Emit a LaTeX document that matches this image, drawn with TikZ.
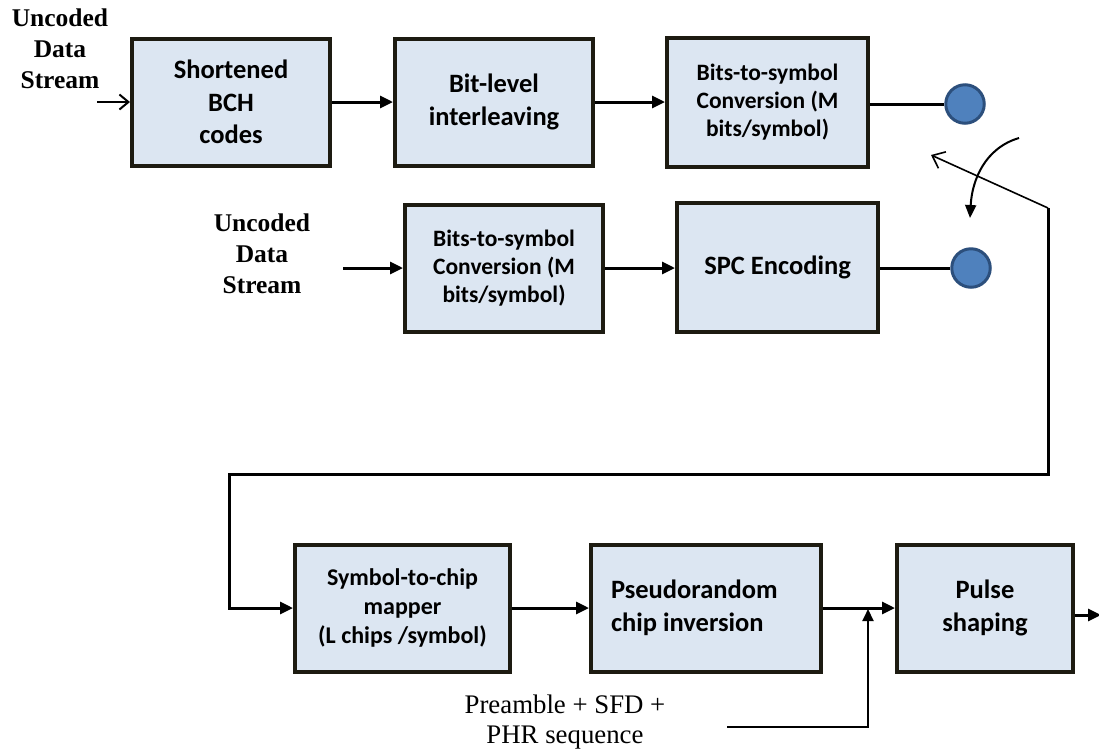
\documentclass[tikz,border=0pt]{standalone}
\usepackage{fontspec}
\setmainfont{Liberation Serif}
\newfontfamily\boxfont{Carlito}
\usetikzlibrary{arrows.meta}
\definecolor{boxfill}{HTML}{DCE6F2}
\definecolor{boxline}{HTML}{1D1B11}
\definecolor{dotfill}{HTML}{4F81BD}
\definecolor{dotline}{HTML}{2C4F7C}
\begin{document}
\begin{tikzpicture}[x=1pt,y=-1pt,
  blk/.style={draw=boxline, line width=4pt, fill=boxfill, inner sep=0pt,
    align=center, minimum height=127pt},
  bigtxt/.style={font=\boxfont\bfseries\fontsize{26.5}{32.5}\selectfont},
  smalltxt/.style={font=\boxfont\bfseries\fontsize{23.5}{28}\selectfont},
  dot/.style={circle, draw=dotline, line width=3pt, fill=dotfill, minimum size=38.5pt, inner sep=0pt},
  lbl/.style={align=center, inner sep=0pt, font=\bfseries\fontsize{25.5}{31}\selectfont},
  plbl/.style={align=center, inner sep=0pt, font=\fontsize{26.8}{30}\selectfont},
  conn/.style={line width=3pt, draw=black},
  arr/.style={conn, -{Triangle[length=13pt,width=12pt]}},
  openarr/.style={line width=2.5pt, -{Straight Barb[length=9pt,width=15pt,line width=2pt]}},
  armarr/.style={line width=1.6pt, -{Straight Barb[length=11pt,width=18pt,line width=1.6pt]}},
  curvarr/.style={line width=2pt, -{Triangle[length=13pt,width=11pt]}}
]
\useasboundingbox (0,0) rectangle (1099,748);

% row 1
\node[lbl] (in1) at (60,49) {Uncoded\\Data\\Stream};
\node[blk, bigtxt, minimum width=198pt] (b1) at (231,102) {Shortened\\BCH\\codes};
\node[blk, bigtxt, minimum width=198pt] (b2) at (494,102) {Bit-level\\interleaving};
\node[blk, smalltxt, minimum width=201pt, minimum height=129pt] (b3) at (767.5,102) {Bits-to-symbol\\Conversion (M\\bits/symbol)};
\node[dot] (c1) at (965,104) {};

% row 2
\node[lbl] (in2) at (262,254) {Uncoded\\Data\\Stream};
\node[blk, smalltxt, minimum width=198pt] (b4) at (504,268) {Bits-to-symbol\\Conversion (M\\bits/symbol)};
\node[blk, bigtxt, minimum width=201pt, minimum height=129pt] (b5) at (777.5,267) {SPC Encoding};
\node[dot] (c2) at (971,268) {};

% row 3
\node[blk, font=\boxfont\bfseries\fontsize{24}{29}\selectfont, minimum width=215pt] (b6) at (402.5,608) {Symbol-to-chip\\mapper\\(L chips /symbol)};
\node[blk, bigtxt, minimum width=230pt, text width=190pt, inner xsep=20pt, align=flush left] (b7) at (706,608) {Pseudorandom\\chip inversion};
\node[blk, bigtxt, minimum width=176pt] (b8) at (985,608) {Pulse\\shaping};

\node[plbl] (pre) at (565,722) {Preamble + SFD +\\PHR sequence};

% coordinates
\coordinate (s1) at (97,102);
\coordinate (s2) at (343,268);
\coordinate (pivot) at (1048,208);
\coordinate (armtip) at (931,155);
\coordinate (loopR) at (1048,474);
\coordinate (loopL) at (229,474);
\coordinate (cs) at (1019,138);
\coordinate (ce) at (970,218);
\coordinate (p1) at (727,727);
\coordinate (junc) at (868,609);
\coordinate (out) at (1101,615);

% connectors
\draw[openarr] (s1) -- (s1 -| b1.west);
\draw[arr] (b1.east) -- (b2.west);
\draw[arr] (b2.east) -- (b3.west);
\draw[conn] (b3.east |- c1) -- (c1.west);
\draw[arr] (s2) -- (s2 -| b4.west);
\draw[arr] (b4.east |- s2) -- (s2 -| b5.west);
\draw[conn] (b5.east |- c2) -- (c2.west);

\draw[armarr] (pivot) -- (armtip);
\draw[curvarr] (cs) .. controls (985,148) and (972,180) .. (ce);
\draw[arr, line join=miter] (pivot) -- (loopR) -- (loopL) |- (b6.west);

\draw[arr] (b6.east) -- (b7.west);
\draw[arr] (b7.east) -- (b8.west);
\draw[arr] (b8.east |- out) -- (out);
\draw[line width=2pt, -{Triangle[length=12pt,width=11pt]}] (p1) -| (junc);
\end{tikzpicture}
\end{document}
